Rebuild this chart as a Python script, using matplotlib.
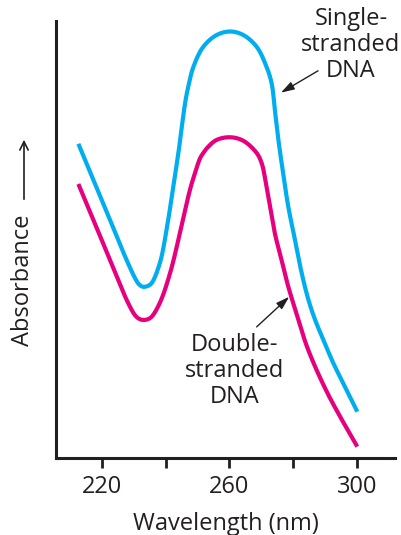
import matplotlib
matplotlib.use("Agg")
import matplotlib.pyplot as plt
import numpy as np

# ---- data ----
ss_wavelength = [212.7, 217.4, 222.6, 227.8, 230.4, 231.6, 232.8, 234.2, 235.6, 238.2, 240.3,
                 242.4, 244.0, 246.1, 247.1, 248.7, 251.8, 256.0, 260.2, 264.3, 268.5,
                 271.6, 273.2, 274.2, 275.3, 276.8, 278.4, 280.5, 282.6, 284.7, 286.8,
                 289.4, 292.5, 295.6, 300.0]
ss_absorbance = [0.719, 0.636, 0.545, 0.453, 0.412, 0.398, 0.392, 0.393, 0.400, 0.446, 0.522,
                 0.621, 0.698, 0.812, 0.850, 0.895, 0.941, 0.968, 0.976, 0.968, 0.941,
                 0.895, 0.857, 0.796, 0.728, 0.651, 0.575, 0.499, 0.423, 0.362, 0.316,
                 0.270, 0.217, 0.171, 0.106]

ds_wavelength = [212.7, 217.4, 222.6, 227.8, 230.4, 231.6, 232.8, 234.2, 235.6, 238.2, 241.4,
                 244.5, 247.6, 249.2, 250.8, 251.8, 253.3, 256.0, 260.2, 264.3,
                 268.5, 270.1, 271.4, 272.7, 274.2, 276.3, 278.4, 281.6, 283.9, 286.8,
                 290.7, 294.6, 300.0]
ds_absorbance = [0.627, 0.545, 0.453, 0.362, 0.327, 0.319, 0.316, 0.317, 0.323, 0.355, 0.423,
                 0.515, 0.613, 0.652, 0.686, 0.698, 0.712, 0.728, 0.734, 0.726,
                 0.698, 0.674, 0.629, 0.575, 0.514, 0.453, 0.392, 0.316, 0.262, 0.209,
                 0.148, 0.095, 0.026]

xticks = [220, 240, 260, 280, 300]
xtick_labels = ["220", "", "260", "", "300"]

ss_label = "Single-\nstranded\nDNA"
ds_label = "Double-\nstranded\nDNA"
xlabel = "Wavelength (nm)"
ylabel = "Absorbance"

# ---- style ----
FONT = ["Open Sans", "DejaVu Sans"]
plt.rcParams["font.family"] = FONT
TEXT = "#231F20"
BLUE = "#00AEEF"
PINK = "#E6007E"
FS = 17

XLIM = (205.7, 311.8)
YLIM = (0, 1)


def smooth_path(xs, ys, sx, sy, n=20):
    """Centripetal Catmull-Rom through the read points (drawing aid only)."""
    P = np.column_stack([np.asarray(xs) * sx, np.asarray(ys) * sy])
    P = np.vstack([2 * P[0] - P[1], P, 2 * P[-1] - P[-2]])
    out = []
    for i in range(1, len(P) - 2):
        p0, p1, p2, p3 = P[i - 1], P[i], P[i + 1], P[i + 2]
        t0 = 0.0
        t1 = t0 + np.linalg.norm(p1 - p0) ** 0.5
        t2 = t1 + np.linalg.norm(p2 - p1) ** 0.5
        t3 = t2 + np.linalg.norm(p3 - p2) ** 0.5
        t = np.linspace(t1, t2, n, endpoint=False)[:, None]
        a1 = (t1 - t) / (t1 - t0) * p0 + (t - t0) / (t1 - t0) * p1
        a2 = (t2 - t) / (t2 - t1) * p1 + (t - t1) / (t2 - t1) * p2
        a3 = (t3 - t) / (t3 - t2) * p2 + (t - t2) / (t3 - t2) * p3
        b1 = (t2 - t) / (t2 - t0) * a1 + (t - t0) / (t2 - t0) * a2
        b2 = (t3 - t) / (t3 - t1) * a2 + (t - t1) / (t3 - t1) * a3
        c = (t2 - t) / (t2 - t1) * b1 + (t - t1) / (t2 - t1) * b2
        out.append(c)
    out.append(P[-2][None, :])
    out = np.vstack(out)
    return out[:, 0] / sx, out[:, 1] / sy


fig = plt.figure(figsize=(4.02, 5.35), dpi=100)
ax = fig.add_axes([56/402, 77/535, 339/402, 437/535])
ax.set_xlim(*XLIM)
ax.set_ylim(*YLIM)

# scale factors so smoothing happens in (approximately) pixel space
SX = 339 / (XLIM[1] - XLIM[0])
SY = 437 / (YLIM[1] - YLIM[0])

bx, by = smooth_path(ss_wavelength, ss_absorbance, SX, SY)
px_, py_ = smooth_path(ds_wavelength, ds_absorbance, SX, SY)
ax.plot(bx, by, color=BLUE, lw=3.0, solid_capstyle="butt", solid_joinstyle="round")
ax.plot(px_, py_, color=PINK, lw=3.0, solid_capstyle="butt", solid_joinstyle="round")

for s in ["top", "right"]:
    ax.spines[s].set_visible(False)
for s in ["left", "bottom"]:
    ax.spines[s].set_linewidth(2.2)
    ax.spines[s].set_color(TEXT)

ax.set_yticks([])
ax.set_xticks(xticks)
ax.set_xticklabels(xtick_labels, fontsize=FS, color=TEXT)
ax.tick_params(axis="x", direction="out", length=7.5, width=2.0, color=TEXT, pad=5)

ax.set_xlabel(xlabel, fontsize=FS, color=TEXT, labelpad=9)

# Y label with arrow
fig.text(23/402, 1 - 280/535, ylabel, rotation=90, ha="center", va="center",
         fontsize=FS, color=TEXT)
fig.patches.append(matplotlib.patches.FancyArrowPatch(
    (24/402, 1 - 202/535), (24/402, 1 - 137/535), transform=fig.transFigure,
    arrowstyle="->,head_length=6,head_width=3", lw=1.2, color=TEXT))

# Annotations
ax.text(298.0, 0.945, ss_label, ha="center", va="center", fontsize=FS, color=TEXT,
        linespacing=1.12, clip_on=False)
ax.annotate("", xy=(276.1, 0.836), xytext=(287.7, 0.886),
            arrowprops=dict(arrowstyle="-|>,head_length=0.8,head_width=0.25",
                            lw=1.0, color=TEXT, shrinkA=0, shrinkB=0),
            annotation_clip=False)

ax.text(261.7, 0.199, ds_label, ha="center", va="center", fontsize=FS, color=TEXT,
        linespacing=1.12)
ax.annotate("", xy=(278.7, 0.369), xytext=(268.5, 0.300),
            arrowprops=dict(arrowstyle="-|>,head_length=0.8,head_width=0.25",
                            lw=1.0, color=TEXT, shrinkA=0, shrinkB=0))

fig.savefig("out.png", dpi=100)
